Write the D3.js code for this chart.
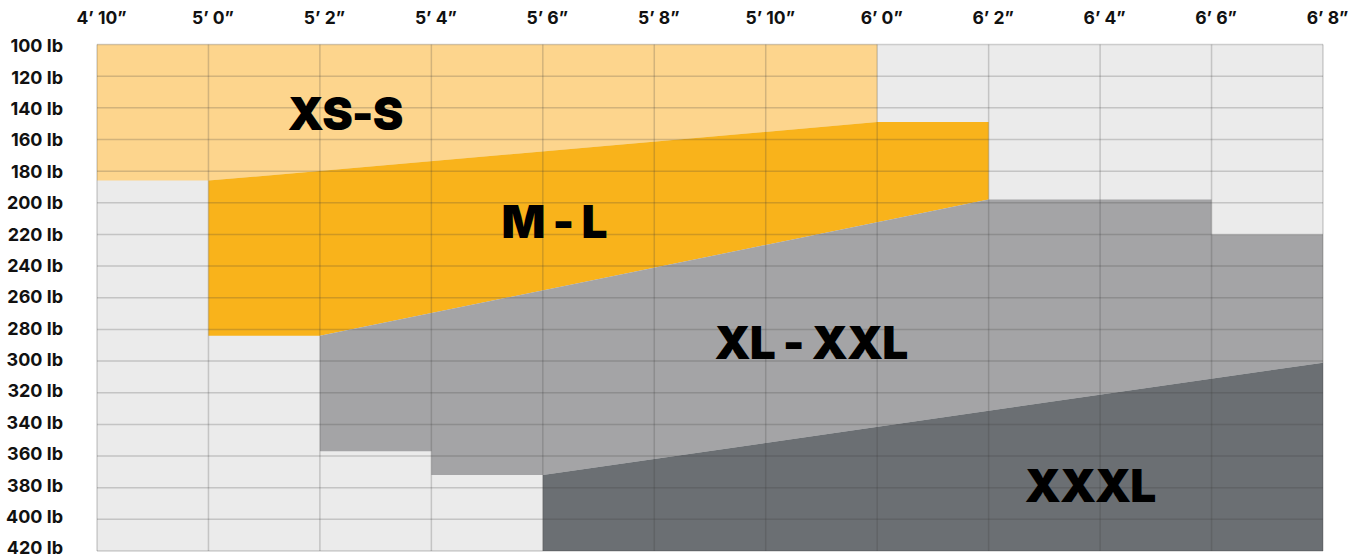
<!DOCTYPE html>
<html>
<head>
<meta charset="utf-8">
<script src="https://cdn.jsdelivr.net/npm/d3@7"></script>
<style>
  body { margin: 0; background: #fff; }
  text { font-family: Inter, "Liberation Sans", sans-serif; }
</style>
</head>
<body>
<script>
// heights in inches, weights in lb
var heightTicks = [58, 60, 62, 64, 66, 68, 70, 72, 74, 76, 78, 80];
var heightLabels = ["4’ 10”", "5’ 0”", "5’ 2”", "5’ 4”", "5’ 6”", "5’ 8”", "5’ 10”", "6’ 0”", "6’ 2”", "6’ 4”", "6’ 6”", "6’ 8”"];
var weightTicks = [100, 120, 140, 160, 180, 200, 220, 240, 260, 280, 300, 320, 340, 360, 380, 400, 420];

var sizeNames = ["XS-S", "M - L", "XL - XXL", "XXXL"];
var sizeColors = ["#fdd58d", "#f9b31b", "#a4a4a6", "#6b6f73"];
// outline of each size zone as [height, weight]
var xsS = [[58, 100], [72, 100], [72, 149], [60, 186], [58, 186]];
var mL = [[60, 186], [72, 149], [74, 149], [74, 198], [62, 284], [60, 284]];
var xlXxl = [[62, 284], [74, 198], [78, 198], [78, 220], [80, 220], [80, 301], [66, 372], [64, 372], [64, 357], [62, 357]];
var xxxl = [[66, 372], [80, 301], [80, 420], [66, 420]];
var zones = [xsS, mL, xlXxl, xxxl];
// label anchor (baseline centre) for each zone [height, weight]
var labelPos = [[62.45, 154], [66.2, 222], [70.81, 299], [75.82, 389]];

var width = 1356, height = 560;
var margin = ({top: 44.5, right: 33, bottom: 9, left: 97});

var x = d3.scaleLinear()
    .domain([58, 80])
    .range([margin.left, width - margin.right]);

var y = d3.scaleLinear()
    .domain([100, 420])
    .range([margin.top, height - margin.bottom]);

// the weight labels sit a touch tighter than the grid
var yLabel = d3.scaleLinear()
    .domain([100, 420])
    .range([margin.top + 1.5, height - margin.bottom - 3]);

const svg = d3.select("body").append("svg")
    .attr("width", width)
    .attr("height", height);

svg.append("rect")
    .attr("x", x(58))
    .attr("y", y(100))
    .attr("width", x(80) - x(58))
    .attr("height", y(420) - y(100))
    .attr("fill", "#ebebeb");

var line = d3.line().x(d => x(d[0])).y(d => y(d[1]));

svg.append("g")
  .selectAll("path")
  .data(zones)
  .enter().append("path")
    .attr("d", d => line(d) + "Z")
    .attr("fill", (d, i) => sizeColors[i]);

// grid drawn over the zones
var grid = svg.append("g")
    .attr("stroke", "rgba(60,60,60,0.22)")
    .attr("stroke-width", 1.5);

grid.selectAll(".v")
  .data(heightTicks)
  .enter().append("line")
    .attr("x1", d => x(d)).attr("x2", d => x(d))
    .attr("y1", y(100)).attr("y2", y(420));

grid.selectAll(".h")
  .data(weightTicks)
  .enter().append("line")
    .attr("y1", d => y(d)).attr("y2", d => y(d))
    .attr("x1", x(58)).attr("x2", x(80));

var xAxis = g => g
    .attr("transform", `translate(4,${margin.top - 17.5})`)
    .call(d3.axisTop(x).tickValues(heightTicks).tickFormat((d, i) => heightLabels[i]).tickSize(0))
    .call(g => g.select(".domain").remove())
    .call(g => g.selectAll("text")
        .attr("font-family", "Roboto, sans-serif")
        .attr("font-size", 17.5)
        .attr("font-weight", 700)
        .attr("fill", "#111"));

var yAxis = g => g
    .attr("transform", `translate(${margin.left - 31},0)`)
    .call(d3.axisLeft(yLabel).tickValues(weightTicks).tickFormat(d => d + " lb").tickSize(0))
    .call(g => g.select(".domain").remove())
    .call(g => g.selectAll("text")
        .attr("font-family", "Roboto, sans-serif")
        .attr("font-size", 18)
        .attr("font-weight", 700)
        .attr("fill", "#111"));

svg.append("g").call(xAxis);
svg.append("g").call(yAxis);

svg.append("g")
  .selectAll("text")
  .data(sizeNames)
  .enter().append("text")
    .attr("x", (d, i) => x(labelPos[i][0]))
    .attr("y", (d, i) => y(labelPos[i][1]))
    .attr("text-anchor", "middle")
    .attr("font-size", 46)
    .attr("font-weight", 900)
    .attr("letter-spacing", -1)
    .attr("fill", "#000")
    .text(d => d);

svg.node();
</script>
</body>
</html>
